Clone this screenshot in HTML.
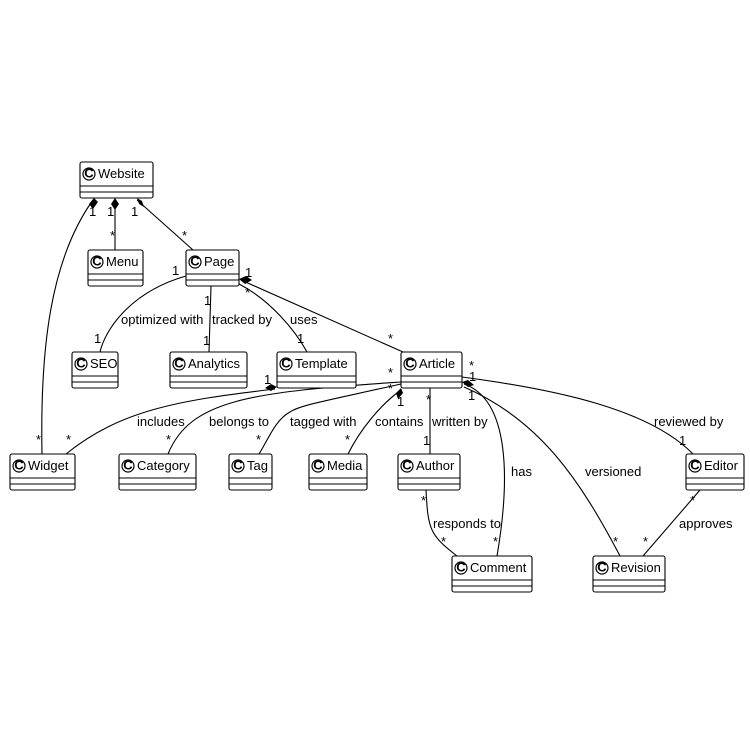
<!DOCTYPE html>
<html><head><meta charset="utf-8"><style>
html,body{margin:0;padding:0;background:#fff;}
svg{display:block;}
text{font-family:"Liberation Sans","DejaVu Sans",sans-serif;font-size:13px;fill:#000;}
.l{fill:none;stroke:#000;stroke-width:1.1;}
.b{fill:#fff;stroke:#000;stroke-width:1.1;}
.c{font-size:9px;}
</style></head><body>
<svg width="750" height="750" viewBox="0 0 750 750" xmlns="http://www.w3.org/2000/svg">
<!-- edges -->
<path class="l" d="M93,200 C50,260 40,350 42,454"/>
<path class="l" d="M115,200 L115,250"/>
<path class="l" d="M137,200 L193,250"/>
<path class="l" d="M186,276 C130,292 105,330 100,352"/>
<path class="l" d="M211,286 L209,352"/>
<path class="l" d="M239,284 C270,300 295,330 307,352"/>
<path class="l" d="M241,280 L403,352"/>
<path class="l" d="M275,389 C180,400 120,410 66,454"/>
<path class="l" d="M401,382 C250,392 190,400 168,454"/>
<path class="l" d="M401,384 C330,400 300,405 290,412 C275,420 268,440 259,454"/>
<path class="l" d="M401,390 C380,405 360,430 348,454"/>
<path class="l" d="M430,388 L430,454"/>
<path class="l" d="M464,384 C510,400 510,480 497,556"/>
<path class="l" d="M464,387 C540,420 580,480 620,556"/>
<path class="l" d="M462,377 C560,390 650,410 693,454"/>
<path class="l" d="M426,490 C428,530 430,535 457,556"/>
<path class="l" d="M700,490 L643,556"/>
<!-- diamonds -->
<polygon points="94,198 98,202 93,209 89,204" fill="#000"/>
<polygon points="115,198 119,204 115,210 111,204" fill="#000"/>
<polygon points="137,198 142,201 144,207 139,204" fill="#000"/>
<polygon points="239,279 246,276 252,280 245,284" fill="#000"/>
<polygon points="277,387 271,384 265,388 271,391" fill="#000"/>
<polygon points="401,388 403,393 398,399 396,393" fill="#000"/>
<polygon points="462,382 468,380 474,385 468,387" fill="#000"/>
<!-- boxes -->
<g>
<rect class="b" x="80" y="162" width="73" height="36" rx="2"/>
<rect class="b" x="88" y="250" width="55" height="36" rx="2"/>
<rect class="b" x="186" y="250" width="53" height="36" rx="2"/>
<rect class="b" x="72" y="352" width="46" height="36" rx="2"/>
<rect class="b" x="170" y="352" width="77" height="36" rx="2"/>
<rect class="b" x="277" y="352" width="79" height="36" rx="2"/>
<rect class="b" x="401" y="352" width="61" height="36" rx="2"/>
<rect class="b" x="10" y="454" width="65" height="36" rx="2"/>
<rect class="b" x="119" y="454" width="77" height="36" rx="2"/>
<rect class="b" x="229" y="454" width="43" height="36" rx="2"/>
<rect class="b" x="309" y="454" width="58" height="36" rx="2"/>
<rect class="b" x="398" y="454" width="62" height="36" rx="2"/>
<rect class="b" x="686" y="454" width="58" height="36" rx="2"/>
<rect class="b" x="452" y="556" width="80" height="36" rx="2"/>
<rect class="b" x="593" y="556" width="72" height="36" rx="2"/>
</g>
<g stroke="#000" stroke-width="1">
<path d="M80,186H153M80,192H153"/>
<path d="M88,274H143M88,280H143"/>
<path d="M186,274H239M186,280H239"/>
<path d="M72,376H118M72,382H118"/>
<path d="M170,376H247M170,382H247"/>
<path d="M277,376H356M277,382H356"/>
<path d="M401,376H462M401,382H462"/>
<path d="M10,478H75M10,484H75"/>
<path d="M119,478H196M119,484H196"/>
<path d="M229,478H272M229,484H272"/>
<path d="M309,478H367M309,484H367"/>
<path d="M398,478H460M398,484H460"/>
<path d="M686,478H744M686,484H744"/>
<path d="M452,580H532M452,586H532"/>
<path d="M593,580H665M593,586H665"/>
</g>
<!-- C circles -->
<g fill="none" stroke="#000" stroke-width="1.2">
<circle cx="89" cy="174" r="6"/><circle cx="97" cy="262" r="6"/><circle cx="195" cy="262" r="6"/>
<circle cx="81" cy="364" r="6"/><circle cx="179" cy="364" r="6"/><circle cx="286" cy="364" r="6"/>
<circle cx="410" cy="364" r="6"/><circle cx="19" cy="466" r="6"/><circle cx="128" cy="466" r="6"/>
<circle cx="238" cy="466" r="6"/><circle cx="318" cy="466" r="6"/><circle cx="407" cy="466" r="6"/>
<circle cx="695" cy="466" r="6"/><circle cx="461" cy="568" r="6"/><circle cx="602" cy="568" r="6"/>
</g>
<g class="c" text-anchor="middle" font-weight="bold">
<text x="89" y="177.3">C</text><text x="97" y="265.3">C</text><text x="195" y="265.3">C</text>
<text x="81" y="367.3">C</text><text x="179" y="367.3">C</text><text x="286" y="367.3">C</text>
<text x="410" y="367.3">C</text><text x="19" y="469.3">C</text><text x="128" y="469.3">C</text>
<text x="238" y="469.3">C</text><text x="318" y="469.3">C</text><text x="407" y="469.3">C</text>
<text x="695" y="469.3">C</text><text x="461" y="571.3">C</text><text x="602" y="571.3">C</text>
</g>
<g>
<text x="98" y="178">Website</text><text x="106" y="266">Menu</text><text x="204" y="266">Page</text>
<text x="90" y="368">SEO</text><text x="188" y="368">Analytics</text><text x="295" y="368">Template</text>
<text x="419" y="368">Article</text><text x="28" y="470">Widget</text><text x="137" y="470">Category</text>
<text x="247" y="470">Tag</text><text x="327" y="470">Media</text><text x="416" y="470">Author</text>
<text x="704" y="470">Editor</text><text x="470" y="572">Comment</text><text x="611" y="572">Revision</text>
</g>
<!-- labels -->
<g>
<text x="121" y="324">optimized with</text>
<text x="212" y="324">tracked by</text>
<text x="290" y="324">uses</text>
<text x="137" y="426">includes</text>
<text x="209" y="426">belongs to</text>
<text x="290" y="426">tagged with</text>
<text x="375" y="426">contains</text>
<text x="432" y="426">written by</text>
<text x="511" y="476">has</text>
<text x="585" y="476">versioned</text>
<text x="654" y="426">reviewed by</text>
<text x="433" y="528">responds to</text>
<text x="679" y="528">approves</text>
</g>
<!-- multiplicities -->
<g font-size="11">
<text x="89" y="216">1</text><text x="36" y="444">*</text>
<text x="107" y="216">1</text><text x="110" y="240">*</text>
<text x="131" y="216">1</text><text x="182" y="240">*</text>
<text x="172" y="275">1</text><text x="94" y="343">1</text>
<text x="204" y="305">1</text><text x="203" y="345">1</text>
<text x="245" y="297">*</text><text x="297" y="343">1</text>
<text x="245" y="277">1</text><text x="388" y="343">*</text>
<text x="264" y="384">1</text><text x="66" y="444">*</text>
<text x="388" y="377">*</text><text x="166" y="444">*</text>
<text x="388" y="393">*</text><text x="256" y="444">*</text>
<text x="397" y="406">1</text><text x="345" y="444">*</text>
<text x="426" y="404">*</text><text x="423" y="445">1</text>
<text x="468" y="400">1</text><text x="493" y="546">*</text>
<text x="613" y="546">*</text>
<text x="469" y="370">*</text><text x="469" y="381">1</text>
<text x="679" y="445">1</text>
<text x="421" y="505">*</text><text x="441" y="546">*</text>
<text x="690" y="505">*</text><text x="643" y="546">*</text>
</g>
</svg>
</body></html>
